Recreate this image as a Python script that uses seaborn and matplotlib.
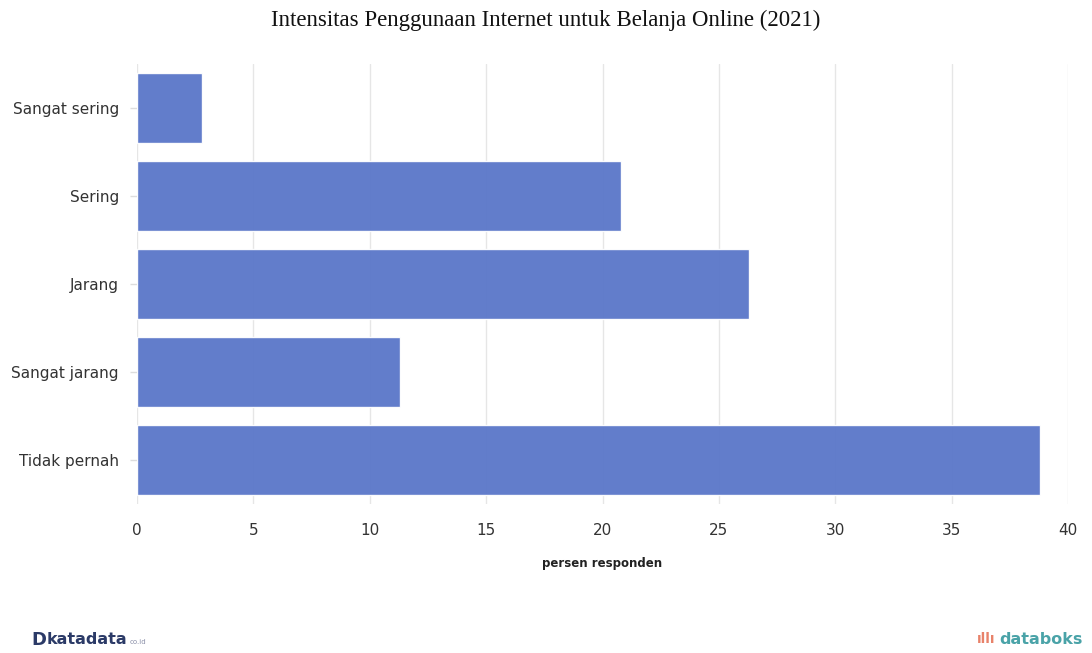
import matplotlib
matplotlib.use("Agg")
import matplotlib.pyplot as plt
import seaborn as sns
import pandas as pd

categories = ["Sangat sering", "Sering", "Jarang", "Sangat jarang", "Tidak pernah"]
values = [2.8, 20.8, 26.3, 11.3, 38.8]
xticks = [0, 5, 10, 15, 20, 25, 30, 35, 40]

df = pd.DataFrame({"kategori": categories, "persen": values})

sns.set_theme(style="white")
plt.rcParams['font.family'] = ['DejaVu Sans']

fig = plt.figure(figsize=(10.92, 6.53), dpi=100)
ax = fig.add_axes([137/1092, 1-504/653, (1068-137)/1092, 440/653])

sns.barplot(data=df, x="persen", y="kategori", order=categories, color="#5a76c9",
            saturation=1, width=0.8, ax=ax, zorder=2, alpha=0.95)

ax.set_xlim(0, 40)
ax.set_ylim(4.5, -0.5)
ax.set_xticks(xticks)
ax.set_xticklabels([str(t) for t in xticks], fontsize=11, color="#333333")
ax.tick_params(axis="x", length=0, pad=14)
ax.tick_params(axis="y", length=5, color="#dddddd", width=1, left=True, pad=8, labelsize=11, labelcolor="#333333")
ax.grid(axis="x", color="#e6e6e6", linewidth=1, zorder=0)
ax.set_axisbelow(True)
for s in ax.spines.values():
    s.set_visible(False)
ax.set_ylabel("")
ax.set_xlabel("persen responden", fontsize=8.5, fontweight="bold", color="#222222", labelpad=13)

fig.text(0.5, 1-20/653, "Intensitas Penggunaan Internet untuk Belanja Online (2021)",
         ha="center", va="center", fontsize=16.5, family="Liberation Serif", color="#111111")

fig.text(31/1092, 1-640/653, "D", ha="left", va="center", fontsize=13, fontweight="bold", color="#2b3a67")
fig.text(47/1092, 1-640/653, "katadata", ha="left", va="center", fontsize=11.5, fontweight="bold", color="#2b3a67")
fig.text(130/1092, 1-642/653, "co.id", ha="left", va="center", fontsize=5, color="#8a8fa8")
fig.text(977/1092, 1-639/653, "ıllı", ha="left", va="center", fontsize=10, fontweight="bold", color="#e8826a")
fig.text(1083/1092, 1-640/653, "databoks", ha="right", va="center", fontsize=11.5, fontweight="bold", color="#4aa3a8")

fig.savefig("out.png", dpi=100)
